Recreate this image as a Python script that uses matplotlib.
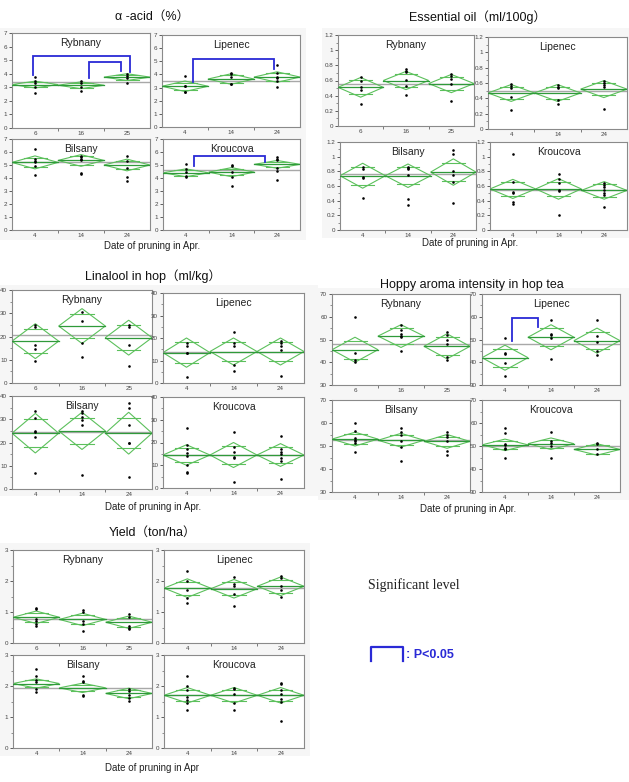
"""JMP-style mean-diamond panels: hop quality vs. pruning date at four sites."""
import numpy as np
import matplotlib; matplotlib.use('Agg')
import matplotlib.pyplot as plt
from matplotlib.lines import Line2D
from matplotlib.patches import Rectangle, Polygon

plt.rcParams['font.family'] = ['Liberation Sans', 'Noto Sans CJK JP']

SITES = ['Rybnany', 'Lipenec', 'Bilsany', 'Kroucova']
DATES_RYB = ['6', '16', '25']
DATES = ['4', '14', '24']

# --- alpha acid (%) ---
acid_means = [[3.2, 3.15, 3.75], [3.1, 3.65, 3.8], [5.2, 5.35, 5.0], [4.4, 4.45, 5.05]]
acid_hw = [[0.25, 0.25, 0.25], [0.4, 0.4, 0.4], [0.5, 0.45, 0.45], [0.3, 0.35, 0.3]]
acid_grand = [3.4, 3.5, 5.2, 4.65]
acid_pts = [
    [[3.75, 3.5, 3.3, 3.05, 2.6], [3.5, 3.3, 3.0, 2.75], [4.0, 3.85, 3.7, 3.3]],
    [[3.9, 3.15, 3.1, 2.7, 2.65], [4.1, 4.0, 3.8, 3.3, 3.25], [4.7, 4.1, 3.8, 3.7, 3.5, 3.05]],
    [[6.2, 5.5, 5.3, 5.2, 4.9, 4.2], [5.7, 5.6, 5.5, 5.35, 4.4, 4.3], [5.7, 5.3, 4.8, 4.1, 3.75]],
    [[5.05, 4.7, 4.5, 4.15, 4.1], [5.0, 4.9, 4.5, 4.1, 3.4], [5.65, 5.5, 5.35, 4.8, 4.55, 3.85]],
]

# --- essential oil (ml/100g) ---
oil_means = [[0.51, 0.6, 0.56], [0.47, 0.47, 0.52], [0.74, 0.74, 0.79], [0.56, 0.56, 0.54]]
oil_hw = [[0.13, 0.12, 0.12], [0.11, 0.11, 0.11], [0.17, 0.16, 0.18], [0.13, 0.14, 0.12]]
oil_grand = [0.56, 0.49, 0.76, 0.55]
oil_pts = [
    [[0.65, 0.6, 0.52, 0.47, 0.29], [0.75, 0.73, 0.71, 0.61, 0.53, 0.41], [0.69, 0.66, 0.62, 0.55, 0.33]],
    [[0.59, 0.56, 0.54, 0.42, 0.25], [0.58, 0.55, 0.53, 0.38, 0.33], [0.63, 0.6, 0.58, 0.55, 0.26]],
    [[0.86, 0.83, 0.72, 0.71, 0.43], [0.86, 0.84, 0.83, 0.75, 0.42, 0.34], [1.09, 1.04, 0.81, 0.75, 0.66, 0.37]],
    [[1.03, 0.66, 0.52, 0.51, 0.38, 0.35], [0.77, 0.69, 0.64, 0.54, 0.53, 0.21], [0.64, 0.62, 0.58, 0.55, 0.51, 0.48, 0.31]],
]

# --- linalool (ml/kg) ---
lin_means = [[18, 24.5, 19.5], [13.5, 14, 14], [24, 25, 24], [14.5, 14.5, 14.5]]
lin_hw = [[7.5, 7.5, 7.5], [6.5, 6, 6], [8.5, 8, 9], [4.5, 5.5, 5]]
lin_grand = [20.5, 14, 24.5, 14.5]
lin_pts = [
    [[25, 24, 16.5, 14.5, 9.5], [30.5, 26.5, 17, 11], [25, 24, 16.5, 7.5]],
    [[18, 16.5, 13.5, 13.5, 2.5], [22.5, 18, 16.5, 8, 5.5], [18.5, 18, 16.5, 14.5, 3]],
    [[33.5, 30.5, 25, 24.5, 22.5, 7], [33.5, 32.5, 31, 29.5, 27.5, 6], [37, 35, 27.5, 20, 20, 5]],
    [[26.5, 19, 17, 15.5, 14, 10, 7, 6.5], [24.5, 18, 16, 13.5, 13, 2.5], [23, 17, 16, 15, 13, 12, 4]],
]

# --- hoppy aroma intensity ---
aroma_means = [[45.5, 51.5, 47], [42, 51, 49.5], [53, 52.5, 52], [50.5, 51, 48.5]]
aroma_hw = [[5.5, 5, 5.5], [5.5, 5.5, 5.5], [3, 3, 3], [2.5, 2.5, 2.5]]
aroma_grand = [48, 48, 52.5, 50]
aroma_pts = [
    [[60, 44, 41, 40], [56.5, 54, 52.5, 51.5, 51, 45], [53.5, 52, 50, 48, 42.5, 41]],
    [[50.5, 44, 43.5, 39.5, 34], [58.5, 52.5, 52, 50.5, 41.5], [58.5, 51.5, 49, 45, 43]],
    [[60, 56.5, 53.5, 52.5, 52, 51.5, 47.5], [58, 56, 55, 52, 49.5, 43.5], [56, 55, 54, 52, 48, 46]],
    [[58, 55.5, 51, 50.5, 49, 48.5, 45], [56, 52, 51.5, 50, 45], [51.5, 51, 48.5, 46.5]],
]

# --- yield (ton/ha) ---
yld_means = [[0.83, 0.76, 0.67], [1.77, 1.75, 1.83], [2.08, 1.94, 1.76], [1.7, 1.7, 1.7]]
yld_hw = [[0.2, 0.2, 0.2], [0.3, 0.3, 0.3], [0.15, 0.15, 0.17], [0.25, 0.25, 0.25]]
yld_grand = [0.76, 1.78, 1.94, 1.7]
yld_pts = [
    [[1.12, 1.1, 0.78, 0.7, 0.62, 0.55], [1.07, 1.0, 0.72, 0.6, 0.38], [0.93, 0.84, 0.56, 0.5, 0.45]],
    [[2.33, 2.0, 1.7, 1.45, 1.3], [2.12, 1.9, 1.85, 1.58, 1.2], [2.15, 2.1, 1.85, 1.7, 1.47]],
    [[2.55, 2.33, 2.2, 2.12, 1.9, 1.8], [2.33, 2.15, 2.13, 1.72, 1.68], [1.9, 1.85, 1.72, 1.6, 1.52]],
    [[2.33, 2.0, 1.87, 1.65, 1.55, 1.45, 1.22], [1.93, 1.9, 1.73, 1.45, 1.22], [2.1, 2.05, 1.88, 1.75, 1.57, 1.5, 0.88]],
]

# significant-difference brackets: (metric, site index, x_left, y_left, x_right, y_right, y_top)
brackets = [
    ('acid', 0, 0.46, 3.9, 2.57, 4.15, 5.3),
    ('acid', 0, 1.68, 3.7, 2.36, 4.2, 4.85),
    ('acid', 1, 0.67, 3.45, 2.43, 4.45, 5.15),
    ('acid', 3, 0.67, 4.95, 2.23, 5.2, 5.7),
    ('aroma', 1, 0.65, 49.2, 1.21, 55.6, 59.6),
]

W, H = 629, 782
fig = plt.figure(figsize=(W / 100, H / 100), dpi=100)

GREEN = '#5cc05c'
DKGREEN = '#2f9a3a'
BLUE = '#2a2ad6'


def px_axes(box):
    x0, y0, x1, y1 = box
    return fig.add_axes([x0 / W, 1 - y1 / H, (x1 - x0) / W, (y1 - y0) / H])


def bg(x0, y0, x1, y1):
    fig.patches.append(Rectangle((x0 / W, 1 - y1 / H), (x1 - x0) / W, (y1 - y0) / H,
                                 transform=fig.transFigure, facecolor='#f6f6f6',
                                 edgecolor='none', zorder=-5))


def panel(ax, site, labels, means, hw, grand, pts, ylim, major, minor, fmt):
    ax.set_xlim(0, 3)
    ax.set_ylim(*ylim)
    ax.axhline(grand, color='#a8a8a8', lw=1.0, zorder=1)
    for i in range(3):
        m, h = means[i], hw[i]
        ax.add_patch(Polygon([(i, m), (i + 0.5, m + h), (i + 1, m), (i + 0.5, m - h)],
                             closed=True, fill=False, edgecolor=GREEN, lw=0.8, zorder=2))
        ax.plot([i, i + 1], [m, m], color=DKGREEN, lw=0.9, zorder=3)
        d = h / np.sqrt(2)
        for yy in (m + d, m - d):
            ax.plot([i + 0.25, i + 0.75], [yy, yy], color=GREEN, lw=0.8, zorder=3)
        ax.scatter([i + 0.5] * len(pts[i]), pts[i], s=3.5, color='black', zorder=4, lw=0)
    ax.set_xticks([0.5, 1.5, 2.5])
    ax.set_xticklabels(labels)
    ax.set_xticks([1, 2], minor=True)
    ax.tick_params(axis='x', which='major', length=0, labelsize=4.5, colors='#444444', pad=2)
    ax.tick_params(axis='x', which='minor', length=2.5, color='#666666')
    ax.set_yticks(major)
    ax.set_yticklabels([fmt(v) for v in major])
    ax.set_yticks(minor, minor=True)
    ax.tick_params(axis='y', which='major', length=2, width=0.6, labelsize=4.5,
                   colors='#444444', pad=1.5)
    ax.tick_params(axis='y', which='minor', length=1.2, width=0.5, color='#666666')
    for s in ax.spines.values():
        s.set_color('#8a8a8a')
        s.set_linewidth(0.8)
    ax.text(0.5, 0.89, site, transform=ax.transAxes, ha='center', va='center',
            fontsize=7.5, color='#222222')


def fmt_int(v):
    return f'{v:g}'


metrics = {
    'acid': dict(means=acid_means, hw=acid_hw, grand=acid_grand, pts=acid_pts,
                 ylim=(0, 7), major=np.arange(0, 8, 1), minor=[],
                 boxes=[(12, 33, 150, 128), (162, 35, 300, 127), (12, 139, 150, 230), (163, 139, 300, 230)]),
    'oil': dict(means=oil_means, hw=oil_hw, grand=oil_grand, pts=oil_pts,
                ylim=(0, 1.2), major=np.round(np.arange(0, 1.21, 0.2), 1), minor=np.arange(0.1, 1.2, 0.2),
                boxes=[(338, 35, 474, 126), (488, 37, 627, 129), (340, 142, 476, 230), (490, 142, 627, 230)]),
    'lin': dict(means=lin_means, hw=lin_hw, grand=lin_grand, pts=lin_pts,
                ylim=(0, 40), major=np.arange(0, 41, 10), minor=np.arange(5, 40, 10),
                boxes=[(12, 290, 152, 383), (163, 293, 304, 383), (12, 396, 152, 489), (163, 397, 304, 488)]),
    'aroma': dict(means=aroma_means, hw=aroma_hw, grand=aroma_grand, pts=aroma_pts,
                  ylim=(30, 70), major=np.arange(30, 71, 10), minor=np.arange(35, 70, 10),
                  boxes=[(332, 294, 470, 385), (482, 294, 620, 385), (332, 400, 470, 492), (482, 400, 620, 492)]),
    'yld': dict(means=yld_means, hw=yld_hw, grand=yld_grand, pts=yld_pts,
                ylim=(0, 3), major=np.arange(0, 4, 1), minor=np.arange(0.5, 3, 1),
                boxes=[(13, 550, 152, 643), (164, 550, 304, 643), (13, 655, 152, 748), (164, 655, 304, 748)]),
}

# light grey screenshot backgrounds
bg(0, 28, 306, 240)
bg(322, 28, 629, 238)
bg(0, 285, 318, 496)
bg(318, 288, 629, 500)
bg(0, 543, 310, 756)

axes = {}
for key, mt in metrics.items():
    for si, site in enumerate(SITES):
        ax = px_axes(mt['boxes'][si])
        panel(ax, site, DATES_RYB if si == 0 else DATES, mt['means'][si], mt['hw'][si],
              mt['grand'][si], mt['pts'][si], mt['ylim'], mt['major'], mt['minor'], fmt_int)
        axes[(key, si)] = ax

for key, si, xl, yl, xr, yr, yt in brackets:
    ax = axes[(key, si)]
    ax.plot([xl, xl, xr, xr], [yl, yt, yt, yr], color=BLUE, lw=1.3, zorder=5,
            solid_joinstyle='miter')

# group titles and x labels
titles = [('α -acid（%）', 152, 17), ('Essential oil（ml/100g）', 477, 17),
          ('Linalool in hop（ml/kg）', 153, 276), ('Hoppy aroma intensity in hop tea', 472, 285),
          ('Yield（ton/ha）', 152, 533)]
for t, x, y in titles:
    fig.text(x / W, 1 - y / H, t, ha='center', va='center', fontsize=9, color='#111111')

xlabels = [('Date of pruning in Apr.', 152, 246), ('Date of pruning in Apr.', 470, 243),
           ('Date of pruning in Apr.', 153, 507), ('Date of pruning in Apr.', 468, 509),
           ('Date of pruning in Apr', 152, 768)]
for t, x, y in xlabels:
    fig.text(x / W, 1 - y / H, t, ha='center', va='center', fontsize=7, color='#222222')

# significance legend
fig.text(368 / W, 1 - 585 / H, 'Significant level', ha='left', va='center', fontsize=10,
         family='Liberation Serif', color='#222222')
fig.lines.append(Line2D([371 / W, 371 / W, 403 / W, 403 / W],
                        [1 - 661 / H, 1 - 647 / H, 1 - 647 / H, 1 - 661 / H],
                        transform=fig.transFigure, color=BLUE, lw=1.6))
fig.text(406 / W, 1 - 655 / H, ': P<0.05', ha='left', va='center', fontsize=9,
         fontweight='bold', color=BLUE)

fig.savefig('out.png', dpi=100, facecolor='white')
